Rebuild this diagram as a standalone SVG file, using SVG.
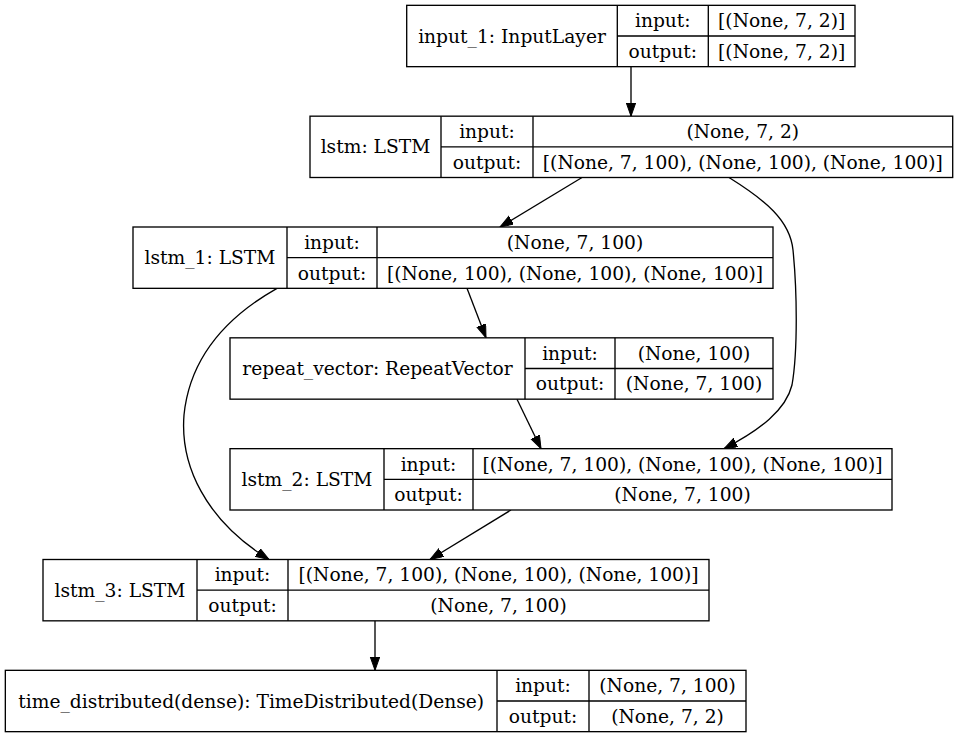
<svg xmlns="http://www.w3.org/2000/svg" width="958" height="737" viewBox="0 0 958 737">
  <defs>
    <marker id="arrow" markerUnits="userSpaceOnUse" markerWidth="16" markerHeight="12" refX="13.3" refY="4.7" orient="auto">
      <path d="M0,0 L13.3,4.7 L0,9.4 Z" fill="#000" stroke="#000" stroke-width="1"/>
    </marker>
    <style>
      .box { fill: #fff; stroke: #000; stroke-width: 1.33; }
      .sep { stroke: #000; stroke-width: 1.33; fill: none; }
      .edge { stroke: #000; stroke-width: 1.33; fill: none; marker-end: url(#arrow); }
      text { font-family: "DejaVu Serif", "Liberation Serif", serif; font-size: 18.67px; fill: #000; text-anchor: middle; }
    </style>
  </defs>
  <rect x="0" y="0" width="958" height="737" fill="#fff"/>

  <!-- connectors -->
  <g id="edges">
    <path class="edge" d="M631,66.7 L631,116.2"/>
    <path class="edge" d="M582,177.5 L500,227"/>
    <path class="edge" d="M729,177.5 C765,200 790,220 793,250 C797,290 798,350 792,385 C786,410 760,430 724,448.7"/>
    <path class="edge" d="M467,288.3 L486,337.8"/>
    <path class="edge" d="M277,288.3 C230,315 190,355 184,415 C180,465 205,520 269,559.5"/>
    <path class="edge" d="M517,399.2 L541,448.7"/>
    <path class="edge" d="M511,510 L430,559.5"/>
    <path class="edge" d="M375,620.8 L375,670.3"/>
  </g>

  <g id="input_1">
    <rect class="box" x="406.7" y="5.33" width="448.3" height="61.33"/>
    <path class="sep" d="M617.3,5.33 V66.67 M708.3,5.33 V66.67 M617.3,36 H855"/>
    <text x="512" y="42.5">input_1: InputLayer</text>
    <text x="662.8" y="27.2">input:</text>
    <text x="662.8" y="57.8">output:</text>
    <text x="781.7" y="27.2">[(None, 7, 2)]</text>
    <text x="781.7" y="57.8">[(None, 7, 2)]</text>
  </g>

  <g id="lstm">
    <rect class="box" x="310" y="116.17" width="642.7" height="61.33"/>
    <path class="sep" d="M441,116.17 V177.5 M533,116.17 V177.5 M441,146.83 H952.7"/>
    <text x="375.5" y="153.3">lstm: LSTM</text>
    <text x="487" y="138">input:</text>
    <text x="487" y="168.7">output:</text>
    <text x="742.8" y="138">(None, 7, 2)</text>
    <text x="742.8" y="168.7">[(None, 7, 100), (None, 100), (None, 100)]</text>
  </g>

  <g id="lstm_1">
    <rect class="box" x="133" y="227" width="640" height="61.33"/>
    <path class="sep" d="M287,227 V288.33 M377,227 V288.33 M287,257.67 H773"/>
    <text x="210" y="264.2">lstm_1: LSTM</text>
    <text x="332" y="248.8">input:</text>
    <text x="332" y="279.5">output:</text>
    <text x="575" y="248.8">(None, 7, 100)</text>
    <text x="575" y="279.5">[(None, 100), (None, 100), (None, 100)]</text>
  </g>

  <g id="repeat_vector">
    <rect class="box" x="230" y="337.83" width="543" height="61.33"/>
    <path class="sep" d="M525,337.83 V399.17 M615,337.83 V399.17 M525,368.5 H773"/>
    <text x="377.5" y="375">repeat_vector: RepeatVector</text>
    <text x="570" y="359.7">input:</text>
    <text x="570" y="390.3">output:</text>
    <text x="694" y="359.7">(None, 100)</text>
    <text x="694" y="390.3">(None, 7, 100)</text>
  </g>

  <g id="lstm_2">
    <rect class="box" x="230" y="448.67" width="662" height="61.33"/>
    <path class="sep" d="M384,448.67 V510 M473,448.67 V510 M384,479.33 H892"/>
    <text x="307" y="485.8">lstm_2: LSTM</text>
    <text x="428.5" y="470.5">input:</text>
    <text x="428.5" y="501.2">output:</text>
    <text x="682.5" y="470.5">[(None, 7, 100), (None, 100), (None, 100)]</text>
    <text x="682.5" y="501.2">(None, 7, 100)</text>
  </g>

  <g id="lstm_3">
    <rect class="box" x="43" y="559.5" width="666" height="61.33"/>
    <path class="sep" d="M197,559.5 V620.83 M288,559.5 V620.83 M197,590.17 H709"/>
    <text x="120" y="596.7">lstm_3: LSTM</text>
    <text x="242.5" y="581.3">input:</text>
    <text x="242.5" y="612">output:</text>
    <text x="498.5" y="581.3">[(None, 7, 100), (None, 100), (None, 100)]</text>
    <text x="498.5" y="612">(None, 7, 100)</text>
  </g>

  <g id="time_distributed">
    <rect class="box" x="5.33" y="670.33" width="740.67" height="61.33"/>
    <path class="sep" d="M497,670.33 V731.67 M589,670.33 V731.67 M497,701 H746"/>
    <text x="251.2" y="707.5">time_distributed(dense): TimeDistributed(Dense)</text>
    <text x="543" y="692.2">input:</text>
    <text x="543" y="722.8">output:</text>
    <text x="667.5" y="692.2">(None, 7, 100)</text>
    <text x="667.5" y="722.8">(None, 7, 2)</text>
  </g>
</svg>
